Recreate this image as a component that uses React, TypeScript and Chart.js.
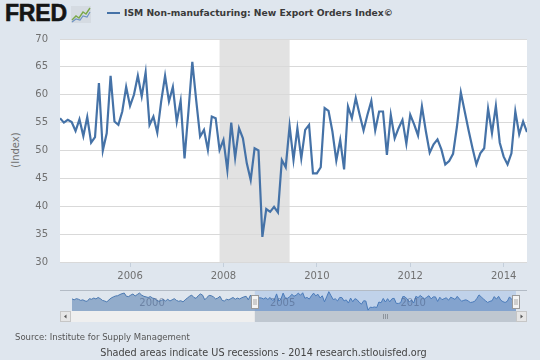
import React, { useEffect, useRef } from "react";
import { Chart, registerables } from "chart.js";

Chart.register(...registerables);

// ---- Data -----------------------------------------------------------------
const START_YEAR = 2004;
const START_MONTH = 7; // first month shown in the main chart (Jul 2004)

// ISM Non-manufacturing: New Export Orders Index, monthly, Jul 2004 - Jul 2014
const exportOrders = [
  55.8, 55.0, 55.5, 55.1, 53.5, 55.6, 52.6, 56.0, 51.4, 52.4, 62.1, 50.0,
  53.1, 63.4, 55.2, 54.6, 57.0, 61.4, 58.0, 60.0, 63.4, 59.7, 64.0, 54.6,
  56.1, 53.2, 58.8, 63.4, 58.8, 61.4, 55.2, 58.9, 48.6, 57.0, 65.9, 59.0,
  52.5, 53.7, 50.1, 56.1, 55.8, 50.1, 51.9, 46.5, 55.0, 48.7, 54.0, 52.2,
  47.7, 44.7, 50.4, 50.0, 34.5, 39.5, 39.0, 39.9, 38.9, 48.3, 47.0, 54.4,
  48.3, 54.0, 48.6, 53.7, 54.6, 45.9, 45.9, 47.0, 57.6, 57.1, 53.4, 48.2,
  51.9, 46.6, 57.9, 55.8, 59.4, 56.4, 53.6, 56.4, 58.9, 53.6, 57.0, 57.0,
  49.2, 56.4, 52.2, 54.0, 55.5, 51.2, 56.4, 54.7, 52.7, 57.9, 53.5, 49.6,
  51.1, 52.0, 50.2, 47.5, 48.1, 49.4, 54.3, 60.4, 57.0, 53.6, 50.4, 47.5,
  49.5, 50.4, 57.5, 53.1, 58.0, 51.4, 48.9, 47.5, 49.5, 57.0, 52.9, 55.2,
  53.3,
];

// Earlier history shown only in the navigator, Jul 1997 - Jun 2004
const HISTORY_START_YEAR = 1997;
const HISTORY_START_MONTH = 7;
const historyOrders = [
  53.6, 52, 54, 53, 51, 52, 50, 49.5,
  54, 53, 55, 53.5, 56, 54, 51,
  50, 48.5, 52, 55, 57, 58.5,
  59, 61, 62.5, 63.5, 58, 57.5, 60, 62,
  58.5, 61, 63.5, 60, 58, 57, 56, 57.5,
  55, 54, 51, 49.5, 51, 52.5, 50, 53,
  50, 52, 54, 51, 49.5, 50.5, 48.5, 52,
  55, 58, 60, 56, 54.5, 59, 62, 60,
  52, 56, 59.5, 59, 57, 53.5, 55, 58,
  51, 50, 53, 52, 54, 56, 53, 55,
  53.5, 55.5, 57, 58, 52, 60, 54,
];

const xTickYears = [2006, 2008, 2010, 2012, 2014];
const yTicks = [30, 35, 40, 45, 50, 55, 60, 65, 70];
const navigatorYears = [2000, 2005, 2010];
const recessionStart = [2007, 12];
const recessionEnd = [2009, 6];

const TITLE = "ISM Non-manufacturing: New Export Orders Index\u00a9";
const SOURCE = "Source: Institute for Supply Management";
const NOTE = "Shaded areas indicate US recessions - 2014 research.stlouisfed.org";

// ---- Helpers --------------------------------------------------------------
const monthToDecimal = (year: number, month: number) => year + (month - 1) / 12;
const toPoints = (y0: number, m0: number, values: number[]) =>
  values.map((v, i) => ({ x: monthToDecimal(y0, m0 + i), y: v }));

const BG = "#dfe6ee";
const LINE = "#4572a7";
const FONT = '"DejaVu Sans", Verdana, sans-serif';

export default function App() {
  const mainRef = useRef<HTMLCanvasElement>(null);
  const navRef = useRef<HTMLCanvasElement>(null);

  useEffect(() => {
    const mainPoints = toPoints(START_YEAR, START_MONTH, exportOrders);
    const histPoints = toPoints(HISTORY_START_YEAR, HISTORY_START_MONTH, historyOrders);
    const navPoints = [...histPoints, ...mainPoints];
    const xMin = mainPoints[0].x;
    const xMax = mainPoints[mainPoints.length - 1].x;
    const recStart = monthToDecimal(recessionStart[0], recessionStart[1]);
    const recEnd = monthToDecimal(recessionEnd[0], recessionEnd[1]);

    const bgPlugin = {
      id: "plotBg",
      beforeDraw(chart: any) {
        const { ctx, chartArea: a, scales } = chart;
        ctx.save();
        ctx.fillStyle = "#ffffff";
        ctx.fillRect(a.left, a.top, a.right - a.left, a.bottom - a.top);
        const x0 = scales.x.getPixelForValue(recStart);
        const x1 = scales.x.getPixelForValue(recEnd);
        ctx.fillStyle = "#e2e2e2";
        ctx.fillRect(x0, a.top, x1 - x0, a.bottom - a.top);
        ctx.restore();
      },
    };

    const main = new Chart(mainRef.current!, {
      type: "line",
      data: {
        datasets: [
          {
            data: mainPoints,
            borderColor: LINE,
            borderWidth: 2.2,
            pointRadius: 0,
            fill: false,
            tension: 0,
          },
        ],
      },
      options: {
        responsive: false,
        animation: false,
        events: [],
        layout: { padding: { top: 39, right: 13, left: 0, bottom: 0 } },
        plugins: {
          legend: { display: false },
          tooltip: { enabled: false },
          title: { display: false },
        },
        scales: {
          x: {
            type: "linear",
            min: xMin,
            max: xMax,
            grid: { drawOnChartArea: false, drawTicks: true, tickLength: 5, color: "#c4cfdb" },
            border: { display: false },
            ticks: {
              padding: 3,
              color: "#707070",
              font: { family: FONT, size: 10 },
              maxRotation: 0,
              autoSkip: false,
              callback: (v: any) => String(v),
            },
            afterBuildTicks: (s: any) => {
              s.ticks = xTickYears.map((v) => ({ value: v }));
            },
            afterFit: (s: any) => {
              s.height = 28;
            },
          },
          y: {
            type: "linear",
            min: 30,
            max: 70,
            grid: { color: "#d9d9d9", drawTicks: false, lineWidth: 1 },
            border: { display: false },
            ticks: {
              padding: 12,
              color: "#707070",
              font: { family: FONT, size: 10 },
              callback: (v: any) => String(v),
            },
            afterBuildTicks: (s: any) => {
              s.ticks = yTicks.map((v) => ({ value: v }));
            },
            afterFit: (s: any) => {
              s.width = 60;
            },
          },
        },
      },
      plugins: [bgPlugin],
    } as any);

    const navPlugin = {
      id: "navExtras",
      afterDraw(chart: any) {
        const { ctx, chartArea: a, scales, width } = chart;
        const sx0 = scales.x.getPixelForValue(xMin);
        const sx1 = scales.x.getPixelForValue(xMax);
        ctx.save();
        // selected range mask
        ctx.fillStyle = "rgba(69,130,220,0.2)";
        ctx.fillRect(sx0, a.top, sx1 - sx0, a.bottom - a.top);
        // year labels
        ctx.font = `10px ${FONT}`;
        ctx.fillStyle = "rgba(70,90,125,0.5)";
        ctx.textAlign = "left";
        ctx.textBaseline = "middle";
        navigatorYears.forEach((yr) => {
          ctx.fillText(String(yr), scales.x.getPixelForValue(yr) + 2, 17);
        });
        // outline
        ctx.strokeStyle = "#b3bbc5";
        ctx.lineWidth = 1;
        ctx.beginPath();
        ctx.moveTo(0, 4.5);
        ctx.lineTo(width, 4.5);
        ctx.stroke();
        // scrollbar track
        const sy = 25;
        const sh = 11;
        ctx.fillStyle = "#efefef";
        ctx.fillRect(11, sy, width - 22, sh);
        // thumb
        ctx.fillStyle = "#bfc7d0";
        ctx.fillRect(sx0, sy, sx1 - sx0, sh);
        ctx.strokeStyle = "#8d949c";
        const gc = (sx0 + sx1) / 2;
        [-2, 0, 2].forEach((d) => {
          ctx.beginPath();
          ctx.moveTo(Math.round(gc + d) + 0.5, sy + 3);
          ctx.lineTo(Math.round(gc + d) + 0.5, sy + 8);
          ctx.stroke();
        });
        // buttons
        ctx.fillStyle = "#e6e6e6";
        ctx.strokeStyle = "#c6c6c6";
        ctx.fillRect(0, sy, 11, sh);
        ctx.strokeRect(0.5, sy + 0.5, 10, sh - 1);
        ctx.fillRect(width - 11, sy, 11, sh);
        ctx.strokeRect(width - 10.5, sy + 0.5, 10, sh - 1);
        ctx.fillStyle = "#555";
        ctx.beginPath();
        ctx.moveTo(4, sy + 5.5);
        ctx.lineTo(6.5, sy + 3.5);
        ctx.lineTo(6.5, sy + 7.5);
        ctx.closePath();
        ctx.fill();
        ctx.beginPath();
        ctx.moveTo(width - 4, sy + 5.5);
        ctx.lineTo(width - 6.5, sy + 3.5);
        ctx.lineTo(width - 6.5, sy + 7.5);
        ctx.closePath();
        ctx.fill();
        // handles
        [sx0, sx1].forEach((hx) => {
          const x = Math.round(hx) - 3.5;
          ctx.fillStyle = "#f4f4f4";
          ctx.strokeStyle = "#9a9a9a";
          ctx.fillRect(x, 9.5, 7, 13);
          ctx.strokeRect(x, 9.5, 7, 13);
          ctx.strokeStyle = "#a8a8a8";
          [2.5, 4.5].forEach((d) => {
            ctx.beginPath();
            ctx.moveTo(x + d, 13);
            ctx.lineTo(x + d, 19);
            ctx.stroke();
          });
        });
        ctx.restore();
      },
    };

    const nav = new Chart(navRef.current!, {
      type: "line",
      data: {
        datasets: [
          {
            data: navPoints,
            borderColor: "#4a78b0",
            borderWidth: 1,
            pointRadius: 0,
            fill: "start",
            backgroundColor: "rgba(69,114,167,0.5)",
            tension: 0,
          },
        ],
      },
      options: {
        responsive: false,
        animation: false,
        events: [],
        layout: { padding: { left: 12, right: 11, top: 5, bottom: 13 } },
        plugins: { legend: { display: false }, tooltip: { enabled: false } },
        scales: {
          x: { type: "linear", display: false, min: navPoints[0].x, max: xMax },
          y: { type: "linear", display: false, min: 33, max: 67 },
        },
      },
      plugins: [navPlugin],
    } as any);

    return () => {
      main.destroy();
      nav.destroy();
    };
  }, []);

  return (
    <div
      style={{
        position: "absolute",
        left: 0,
        top: 0,
        width: 540,
        height: 360,
        background: BG,
        overflow: "hidden",
        fontFamily: FONT,
      }}
    >
      <div
        style={{
          position: "absolute",
          left: 5,
          top: 2,
          fontFamily: '"Liberation Sans", Arial, sans-serif',
          fontWeight: 700,
          fontSize: 23,
          lineHeight: "23px",
          color: "#151515",
          WebkitTextStroke: "0.6px #151515",
          letterSpacing: -0.2,
        }}
      >
        FRED
      </div>
      <svg
        style={{ position: "absolute", left: 71, top: 6 }}
        width={20}
        height={17}
        viewBox="0 0 20 17"
      >
        <rect x={0} y={0} width={20} height={17} fill="#d5dbe2" />
        <polyline points="1,14 5,10 8,12 12,6 15,8 19,2" fill="none" stroke="#7aa84a" strokeWidth={1.4} />
        <polyline points="1,16 5,13 9,14 12,10 16,11 19,6" fill="none" stroke="#6f93c4" strokeWidth={1.2} />
      </svg>
      <div
        style={{ position: "absolute", left: 107, top: 12, width: 13, height: 2, background: LINE }}
      />
      <div
        style={{
          position: "absolute",
          left: 124,
          top: 8,
          fontSize: 9.2,
          lineHeight: "10px",
          fontWeight: 700,
          color: "#3a3a3a",
          whiteSpace: "nowrap",
        }}
      >
        {TITLE}
      </div>
      <div
        style={{
          position: "absolute",
          left: 16,
          top: 150,
          transform: "translate(-50%, -50%) rotate(-90deg)",
          fontSize: 10,
          lineHeight: "10px",
          color: "#707070",
          whiteSpace: "nowrap",
        }}
      >
        (Index)
      </div>
      <canvas
        ref={mainRef}
        width={540}
        height={290}
        style={{ position: "absolute", left: 0, top: 0, width: 540, height: 290 }}
      />
      <canvas
        ref={navRef}
        width={467}
        height={38}
        style={{ position: "absolute", left: 60, top: 286, width: 467, height: 38 }}
      />
      <div
        style={{
          position: "absolute",
          left: 15,
          top: 333,
          fontSize: 8.5,
          lineHeight: "9px",
          color: "#555",
          whiteSpace: "nowrap",
        }}
      >
        {SOURCE}
      </div>
      <div
        style={{
          position: "absolute",
          left: 0,
          width: 527,
          top: 348,
          textAlign: "center",
          fontSize: 9.7,
          lineHeight: "10px",
          color: "#444",
          whiteSpace: "nowrap",
        }}
      >
        {NOTE}
      </div>
    </div>
  );
}
